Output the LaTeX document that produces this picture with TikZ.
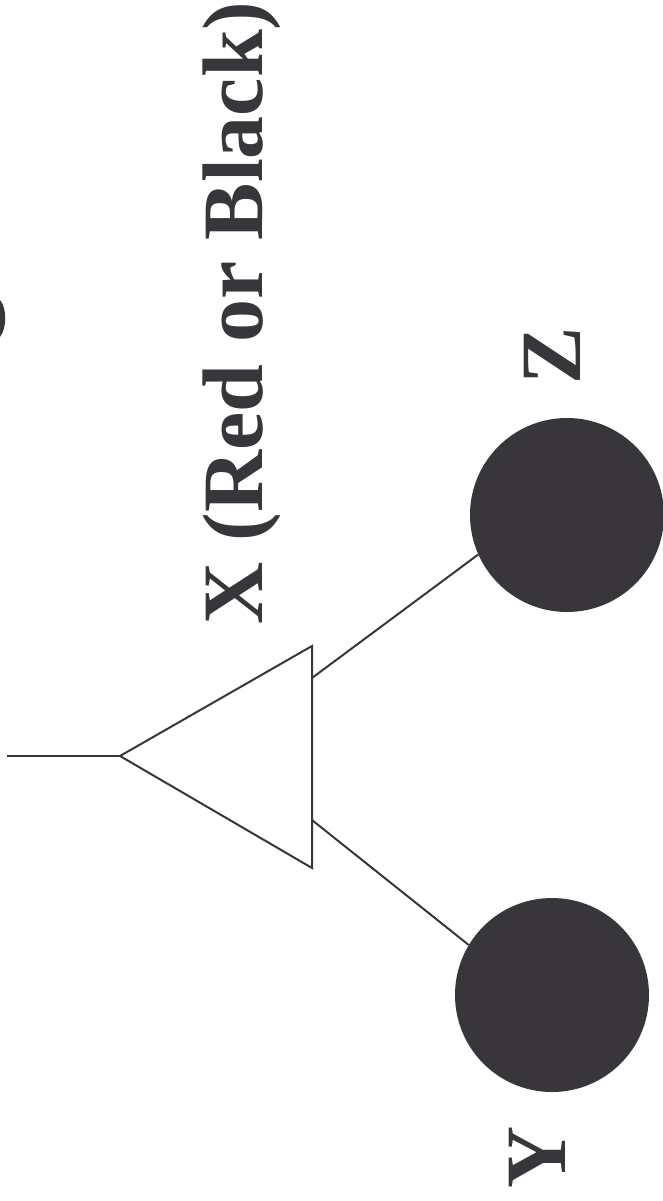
\documentclass[tikz,border=0pt]{standalone}
\usepackage{fontspec}
\setmainfont{Liberation Serif}
\usetikzlibrary{positioning,calc}
\definecolor{nodegray}{RGB}{56,54,59}
\tikzset{
  leaf/.style={draw=none,fill=nodegray,circle,minimum size=194pt,inner sep=0pt},
  lbl/.style={text=nodegray,font=\fontsize{86}{90}\selectfont\bfseries,inner sep=0pt,rotate=90},
  edge/.style={draw=nodegray,line width=2pt}
}
\begin{document}
\begin{tikzpicture}[x=1pt,y=-1pt]
        \useasboundingbox (0,0) rectangle (663,1201);
        % subtree X
        \coordinate (stub) at (7,756);
        \coordinate (apex) at (120,756);
        \coordinate (tr) at (312,646);
        \coordinate (br) at (312,868);
        \draw[edge,line join=miter] (apex)--(tr)--(br)--cycle;
        \draw[edge] (stub)--(apex);

        \node[leaf](z)at(567,515){};
        \node[leaf](y)at(552,995){};
        \draw[edge] ($(tr)!0.144!(br)$) -- (z.204);
        \draw[edge] ($(tr)!0.784!(br)$) -- (y.149);

        \node[lbl,anchor=base west](xlbl)at(262,625){X (Red or Black)};
        \node[lbl,anchor=base](zlbl)at(580,356){Z};
        \node[lbl,anchor=base](ylbl)at(565,1157){Y};

        % cut-off glyph at the left edge
        \fill[nodegray] (0,300) .. controls (7,308) and (7,328) .. (0,337) -- cycle;
    \end{tikzpicture}
\end{document}
